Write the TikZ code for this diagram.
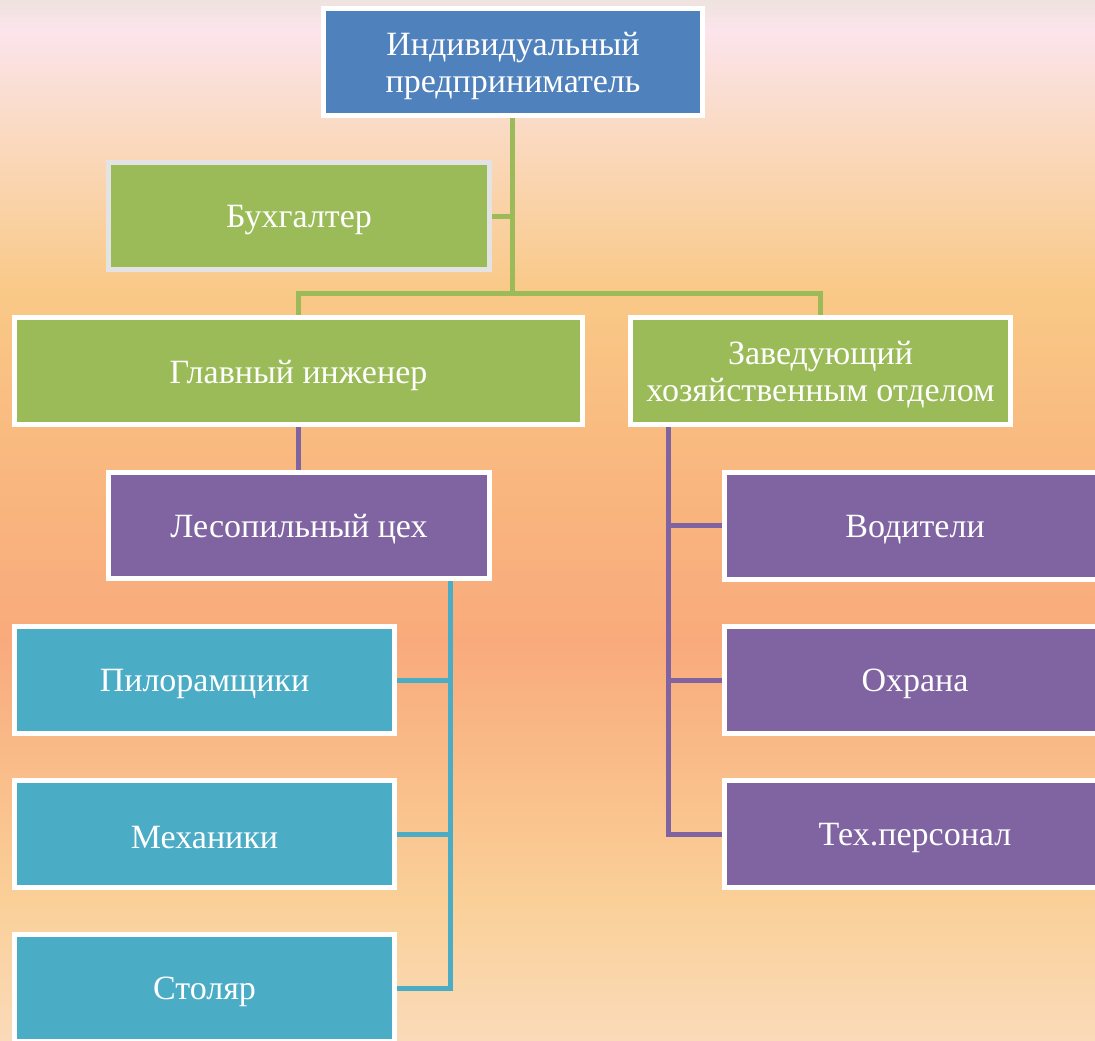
\documentclass[tikz,border=0pt]{standalone}
\usepackage{fontspec}
\setmainfont{Liberation Serif}
\definecolor{cblue}{HTML}{4F81BD}
\definecolor{cgreen}{HTML}{9BBB59}
\definecolor{cpurple}{HTML}{8064A2}
\definecolor{cteal}{HTML}{4BACC6}
\definecolor{cgray}{HTML}{E3E3E3}
\definecolor{b0}{HTML}{EFE3DF}
\definecolor{b1}{HTML}{FBE4EC}
\definecolor{b2}{HTML}{FADBC6}
\definecolor{b3}{HTML}{F9C987}
\definecolor{b4}{HTML}{F9B97F}
\definecolor{b5}{HTML}{F9AA7C}
\definecolor{b6}{HTML}{FAD098}
\definecolor{b7}{HTML}{FADAB9}
\newcommand\lowr[1]{\raisebox{-4pt}[\height][\depth]{#1}}
\pgfdeclarelayer{bgl}
\pgfdeclarelayer{edges}
\pgfsetlayers{bgl,edges,main}
\begin{document}
\begin{tikzpicture}[x=1pt,y=-1pt,
  orgbox/.style={draw=white, line width=5pt, inner sep=0pt, text=white,
    font=\fontsize{34}{37}\selectfont, align=center,
    minimum width=380pt, minimum height=107pt},
  conn/.style={line width=5pt, line join=miter},
]
\useasboundingbox (0,0) rectangle (1095,1041);
\clip (0,0) rectangle (1095,1041);
% background
\begin{pgfonlayer}{bgl}
\shade[top color=b0, bottom color=b1] (0,0) rectangle (1095,31);
\shade[top color=b1, bottom color=b2] (0,30) rectangle (1095,121);
\shade[top color=b2, bottom color=b3] (0,120) rectangle (1095,291);
\shade[top color=b3, bottom color=b4] (0,290) rectangle (1095,451);
\shade[top color=b4, bottom color=b5] (0,450) rectangle (1095,641);
\shade[top color=b5, bottom color=b6] (0,640) rectangle (1095,901);
\shade[top color=b6, bottom color=b7] (0,900) rectangle (1095,1041);
\end{pgfonlayer}

% nodes
\node[orgbox, fill=cblue, minimum width=379pt] (top) at (513,62) {\lowr{Индивидуальный}\\\lowr{предприниматель}};
\node[orgbox, fill=cgreen, draw=cgray, minimum width=381pt] (buh) at (299,216) {\lowr{Бухгалтер}};
\node[orgbox, fill=cgreen, minimum width=568pt] (glav) at (298.5,371) {\lowr{Главный инженер}};
\node[orgbox, fill=cgreen] (zav) at (820.5,371) {\lowr{Заведующий}\\\lowr{хозяйственным отделом}};
\node[orgbox, fill=cpurple, minimum width=381pt, minimum height=106pt] (les) at (299,525.5) {\lowr{Лесопильный цех}};
\node[orgbox, fill=cpurple, minimum width=381pt] (vod) at (915,525.5) {\lowr{Водители}};
\node[orgbox, fill=cpurple, minimum width=381pt] (ohr) at (915,680) {\lowr{Охрана}};
\node[orgbox, fill=cpurple, minimum width=381pt] (tex) at (915,834) {\lowr{Тех.персонал}};
\node[orgbox, fill=cteal] (pil) at (204.5,680) {\lowr{Пилорамщики}};
\node[orgbox, fill=cteal] (mech) at (204.5,834) {\lowr{Механики}};
\node[orgbox, fill=cteal] (stol) at (204.5,988) {\lowr{Столяр}};

\coordinate (jn) at (512,293);
\coordinate (t0) at (450,0);
\coordinate (p0) at (668,0);

\begin{pgfonlayer}{edges}
\draw[conn, cgreen] (top.south -| jn) -- (jn);
\draw[conn, cgreen] (buh.east) -- (buh.east -| jn);
\draw[conn, cgreen] (glav.north) -- (glav.north |- jn) -- (zav.north |- jn) -- (zav.north);
\draw[conn, cpurple] (glav.south) -- (glav.south |- les.north);
\draw[conn, cteal] (les.south -| t0) -- (stol.east -| t0) -- (stol.east);
\draw[conn, cteal] (pil.east) -- (pil.east -| t0);
\draw[conn, cteal] (mech.east) -- (mech.east -| t0);
\draw[conn, cpurple] (zav.south -| p0) -- (tex.west -| p0) -- (tex.west);
\draw[conn, cpurple] (vod.west) -- (vod.west -| p0);
\draw[conn, cpurple] (ohr.west) -- (ohr.west -| p0);
\end{pgfonlayer}
\end{tikzpicture}
\end{document}
